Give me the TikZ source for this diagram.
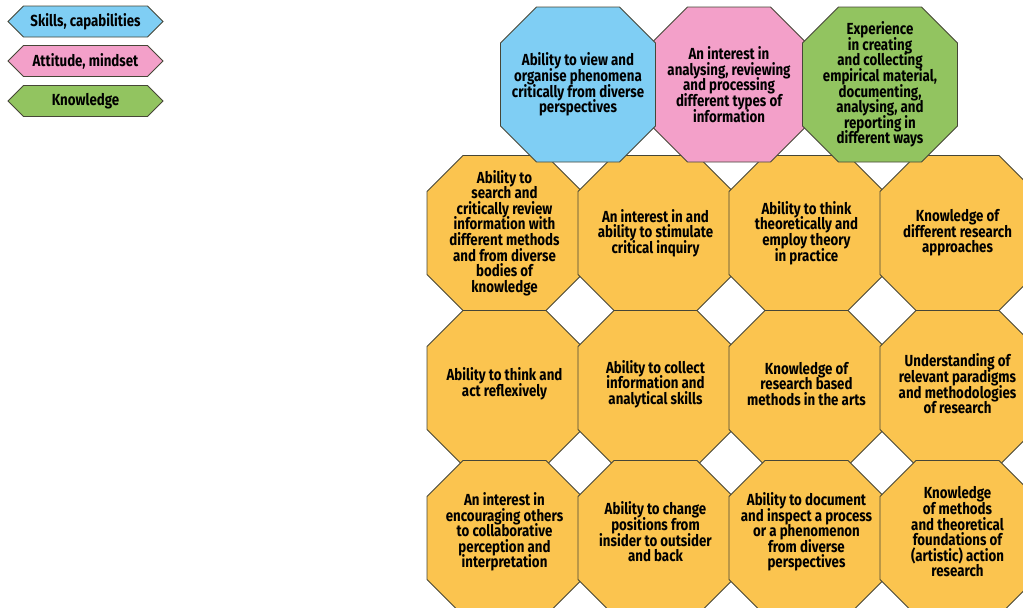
\documentclass[tikz,border=0pt]{standalone}
\usepackage{fontspec}
\setmainfont[FakeStretch=0.83]{Fira Sans}
\usepackage{tikz}
\usetikzlibrary{shapes.symbols}

\definecolor{skillblue}{RGB}{127,206,244}
\definecolor{mindpink}{RGB}{243,160,201}
\definecolor{knowgreen}{RGB}{146,196,96}
\definecolor{coreyellow}{RGB}{251,196,79}
\definecolor{edgegray}{RGB}{70,70,55}

\lineskiplimit=-20pt

% octagon of width 155 round a point, corners cut by 36
\newcommand{\octo}[2]{%
    \draw[draw=edgegray, fill=#1, line width=0.6pt] (#2) ++(-41.5,-77.5) -- ++(83,0) -- ++(36,36)
        -- ++(0,83) -- ++(-36,36) -- ++(-83,0) -- ++(-36,-36) -- ++(0,-83) -- cycle;}

\begin{document}
\begin{tikzpicture}[x=0.025cm, y=-0.025cm,
    txt/.style={inner sep=0pt, align=center, font=\bfseries\fontsize{11.4}{11.1}\selectfont},
    tag/.style={signal, signal to=west and east, signal pointer angle=90,
        minimum width=3.875cm, minimum height=0.775cm, inner sep=0pt,
        draw=edgegray, line width=0.6pt, fill=#1,
        font=\bfseries\fontsize{11.4}{11.1}\selectfont}]

    \useasboundingbox (0,0) rectangle (1023,607);

    % legend
    \node[tag=skillblue] (skills) at (85.5,21.5) {Skills, capabilities};
    \node[tag=mindpink] (attitude) at (85.5,61) {Attitude, mindset};
    \node[tag=knowgreen] (knowledge) at (85.5,101) {Knowledge};

    % first row
    \coordinate (c11) at (504.5,233);
    \coordinate (c12) at (655.5,233);
    \coordinate (c13) at (806.5,233);
    \coordinate (c14) at (957.5,233);
    \octo{coreyellow}{c11}
    \node[txt] (r1c1) at (c11) {Ability to\\search and\\critically review\\information with\\different methods\\and from diverse\\bodies of\\knowledge};
    \octo{coreyellow}{c12}
    \node[txt] (r1c2) at (c12) {An interest in and\\ability to stimulate\\critical inquiry};
    \octo{coreyellow}{c13}
    \node[txt] (r1c3) at (c13) {Ability to think\\theoretically and\\employ theory\\in practice};
    \octo{coreyellow}{c14}
    \node[txt] (r1c4) at (c14) {Knowledge of\\different research\\approaches};

    % second row
    \coordinate (c21) at (504.5,388);
    \coordinate (c22) at (655.5,388);
    \coordinate (c23) at (806.5,388);
    \coordinate (c24) at (957.5,388);
    \octo{coreyellow}{c21}
    \node[txt] (r2c1) at ([yshift=0.1cm]c21) {Ability to think and\\act reflexively};
    \octo{coreyellow}{c22}
    \node[txt] (r2c2) at ([yshift=0.1cm]c22) {Ability to collect\\information and\\analytical skills};
    \octo{coreyellow}{c23}
    \node[txt] (r2c3) at ([yshift=0.1cm]c23) {Knowledge of\\research based\\methods in the arts};
    \octo{coreyellow}{c24}
    \node[txt] (r2c4) at ([yshift=0.1cm]c24) {Understanding of\\relevant paradigms\\and methodologies\\of research};

    % third row
    \coordinate (c31) at (504.5,538);
    \coordinate (c32) at (655.5,538);
    \coordinate (c33) at (806.5,538);
    \coordinate (c34) at (957.5,538);
    \octo{coreyellow}{c31}
    \node[txt] (r3c1) at ([yshift=0.15cm]c31) {An interest in\\encouraging others\\to collaborative\\perception and\\interpretation};
    \octo{coreyellow}{c32}
    \node[txt] (r3c2) at ([yshift=0.15cm]c32) {Ability to change\\positions from\\insider to outsider\\and back};
    \octo{coreyellow}{c33}
    \node[txt] (r3c3) at ([yshift=0.15cm]c33) {Ability to document\\and inspect a process\\or a phenomenon\\from diverse\\perspectives};
    \octo{coreyellow}{c34}
    \node[txt] (r3c4) at ([yshift=0.15cm]c34) {Knowledge\\of methods\\and theoretical\\foundations of\\(artistic) action\\research};

    % top row, on top of the others
    \coordinate (cb) at (578,84.5);
    \coordinate (cp) at (729,84.5);
    \coordinate (cg) at (880,84.5);
    \octo{mindpink}{cp}
    \node[txt] (pink) at (cp) {An interest in\\analysing, reviewing\\and processing\\different types of\\information};
    \octo{skillblue}{cb}
    \node[txt] (blue) at (cb) {Ability to view and\\organise phenomena\\critically from diverse\\perspectives};
    \octo{knowgreen}{cg}
    \node[txt] (green) at (cg) {Experience\\in creating\\and collecting\\empirical material,\\documenting,\\analysing, and\\reporting in\\different ways};
\end{tikzpicture}
\end{document}
